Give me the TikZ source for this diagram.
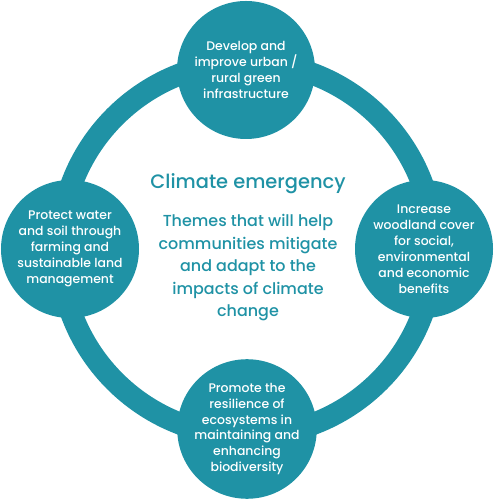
\documentclass[tikz,border=0pt]{standalone}
\usepackage{fontspec}
\setmainfont{Poppins}[UprightFont=* Medium]
\definecolor{teal1}{RGB}{31,146,165}
\begin{document}
\begin{tikzpicture}[x=1bp,y=1bp,
  theme/.style={circle, fill=teal1, minimum size=138bp, inner sep=0pt, align=center, text=white, font=\fontsize{12.5}{16}\selectfont},
  ring/.style={draw=teal1, line width=22bp}]
\useasboundingbox (0,0) rectangle (497,500);
\coordinate (hub) at (247,251);
\draw[ring] (hub) circle (187);
\node[theme] (green) at (246,430) {Develop and\\improve urban /\\rural green\\infrastructure};
\node[theme] (land) at (70,251) {Protect water\\and soil through\\farming and\\sustainable land\\management};
\node[theme] (wood) at (424,251) {Increase\\woodland cover\\for social,\\environmental\\and economic\\benefits};
\node[theme] (eco) at (247,71) {Promote the\\resilience of\\ecosystems in\\maintaining and\\enhancing\\biodiversity};
\node[text=teal1, font=\fontsize{19.5}{22}\selectfont] (title) at (248,316) {Climate emergency};
\node[text=teal1, align=center, font=\fontsize{16}{22.6}\selectfont] (sub) at (248,232) {Themes that will help\\communities mitigate\\and adapt to the\\impacts of climate\\change};
\end{tikzpicture}
\end{document}
